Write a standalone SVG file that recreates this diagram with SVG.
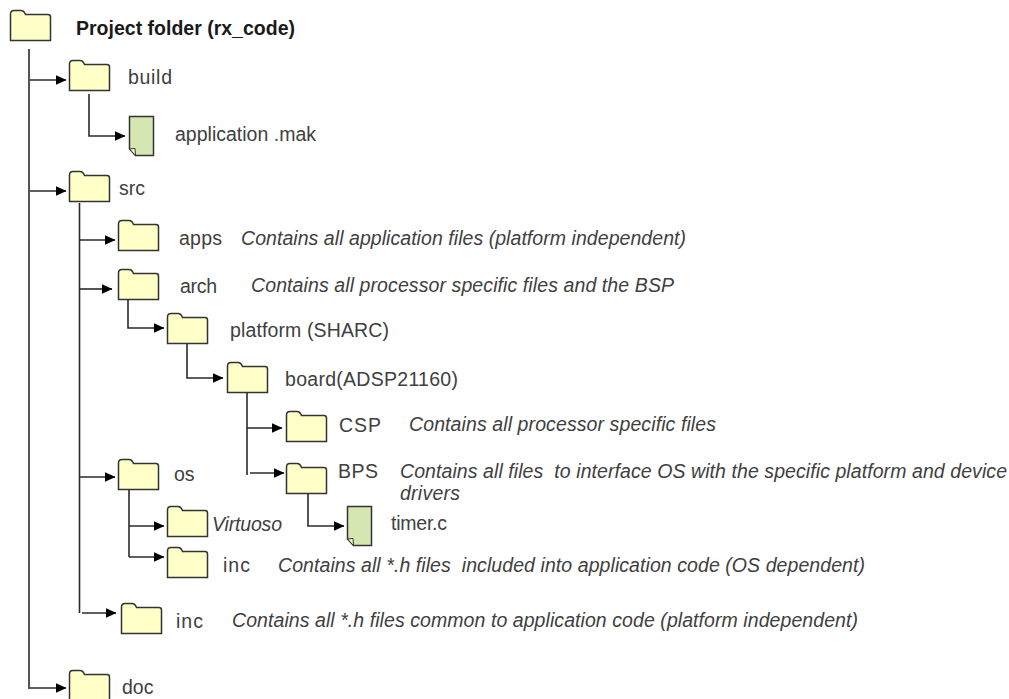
<svg xmlns="http://www.w3.org/2000/svg" width="1009" height="699" viewBox="0 0 1009 699">
<defs>
<path id="folder" d="M0.5 30.5V4Q0.5 0.5 4 0.5H11Q14 0.5 15.5 4.5H38Q40.5 4.5 40.5 7V30.5Z" fill="#ffffc8" stroke="#333" stroke-width="1.5"/>
<g id="file"><path d="M0.5 0.5H24.5V39.5H6.5L0.5 33Z" fill="#d6e6b0" stroke="#333" stroke-width="1.5"/><path d="M0.5 33L6 32.5L6.5 39.5Z" fill="#ffffc8" stroke="#333" stroke-width="1"/></g>
<marker id="arr" markerWidth="11" markerHeight="11" refX="10.5" refY="5.5" orient="auto" markerUnits="userSpaceOnUse"><path d="M0 0.5L11 5.5L0 10.5Z" fill="#000"/></marker>
</defs>
<style>
text{font-family:"Liberation Sans",Arial,sans-serif;font-size:19.5px;fill:#404040}
.i{font-style:italic}
.b{font-weight:bold;fill:#1a1a1a}
.c{fill:none;stroke:#2a2a2a;stroke-width:1.6}
.a{marker-end:url(#arr)}
</style>
<g id="connectors">
<path class="c" d="M29 49V689"/>
<path class="c a" d="M30 80H66"/>
<path class="c a" d="M30 191H66"/>
<path class="c a" d="M30 688H66"/>
<path class="c a" d="M89 94V136H125"/>
<path class="c" d="M79.5 203V613"/>
<path class="c a" d="M80 240H115"/>
<path class="c a" d="M80 289H112"/>
<path class="c a" d="M80 477H115"/>
<path class="c a" d="M82 613H116"/>
<path class="c a" d="M128 299V328H164"/>
<path class="c a" d="M187 343V378H223"/>
<path class="c" d="M247 392V475"/>
<path class="c a" d="M247 428H282"/>
<path class="c a" d="M250 473H284"/>
<path class="c a" d="M308 494V526H344"/>
<path class="c" d="M129 489V557"/>
<path class="c a" d="M129 526H164"/>
<path class="c a" d="M129 557H164"/>
</g>
<g id="n-project"><use href="#folder" x="10" y="10"/><text class="b" x="76" y="35" textLength="219">Project folder (rx_code)</text></g>
<g id="n-build"><use href="#folder" x="69" y="60"/><text x="128" y="84" textLength="44">build</text></g>
<g id="n-application"><use href="#file" x="129" y="116"/><text x="175" y="141" textLength="141">application .mak</text></g>
<g id="n-src"><use href="#folder" x="69" y="171"/><text x="119" y="195" textLength="26">src</text></g>
<g id="n-apps"><use href="#folder" x="118" y="220"/><text x="179" y="245" textLength="43">apps</text><text class="i" x="241" y="245" textLength="445">Contains all application files (platform independent)</text></g>
<g id="n-arch"><use href="#folder" x="118" y="269"/><text x="180" y="293" textLength="37">arch</text><text class="i" x="251" y="292" textLength="423">Contains all processor specific files and the BSP</text></g>
<g id="n-platform"><use href="#folder" x="167" y="313"/><text x="230" y="337" textLength="159">platform (SHARC)</text></g>
<g id="n-board"><use href="#folder" x="227" y="362"/><text x="285" y="386" textLength="173">board(ADSP21160)</text></g>
<g id="n-csp"><use href="#folder" x="286" y="411"/><text x="339" y="432" textLength="42">CSP</text><text class="i" x="409" y="431" textLength="307">Contains all processor specific files</text></g>
<g id="n-bps"><use href="#folder" x="286" y="463"/><text x="338" y="478" textLength="40">BPS</text><text class="i" x="400" y="478" textLength="607" xml:space="preserve">Contains all files  to interface OS with the specific platform and device</text><text class="i" x="400" y="500" textLength="60">drivers</text></g>
<g id="n-timer"><use href="#file" x="347" y="506"/><text x="391" y="530" textLength="56">timer.c</text></g>
<g id="n-os"><use href="#folder" x="118" y="459"/><text x="174" y="481">os</text></g>
<g id="n-virtuoso"><use href="#folder" x="167" y="506"/><text class="i" x="212" y="531" textLength="70">Virtuoso</text></g>
<g id="n-inc-os"><use href="#folder" x="167" y="547"/><text x="223" y="572" textLength="27">inc</text><text class="i" x="278" y="572" textLength="587" xml:space="preserve">Contains all *.h files  included into application code (OS dependent)</text></g>
<g id="n-inc"><use href="#folder" x="121" y="603"/><text x="176" y="628" textLength="27">inc</text><text class="i" x="232" y="627" textLength="626">Contains all *.h files common to application code (platform independent)</text></g>
<g id="n-doc"><use href="#folder" x="69" y="670"/><text x="122" y="694">doc</text></g>
</svg>
